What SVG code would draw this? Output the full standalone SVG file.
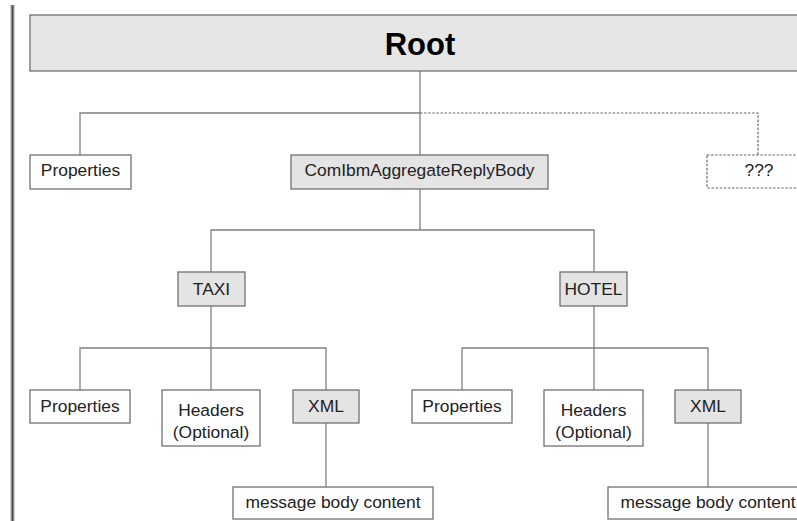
<svg xmlns="http://www.w3.org/2000/svg" width="797" height="521" viewBox="0 0 797 521">
  <style>
    .box { fill: #ffffff; stroke: #707070; stroke-width: 1.3; }
    .grey { fill: #e4e4e4; }
    .dotted { fill: #ffffff; stroke: #666666; stroke-width: 1.2; stroke-dasharray: 2.5 1.6; }
    .lbl { font-family: "Liberation Sans", Arial, sans-serif; font-size: 17.4px; fill: #222222; text-anchor: middle; }
    .title { font-family: "Liberation Sans", Arial, sans-serif; font-size: 31px; font-weight: bold; fill: #000000; text-anchor: middle; }
    .wire { fill: none; stroke: #808080; stroke-width: 1.3; }
    .wire-dot { fill: none; stroke: #666666; stroke-width: 1.2; stroke-dasharray: 2.5 1.6; }
  </style>
  <rect width="797" height="521" fill="#ffffff"/>

  <!-- margin rule on the left edge -->
  <g id="margin">
    <rect x="10" y="5" width="5" height="516" fill="#cfcfd6"/>
    <rect x="11.5" y="5" width="2" height="516" fill="#4a4a4a"/>
  </g>

  <g id="connectors">
    <path class="wire" d="M420 71 V155"/>
    <path class="wire" d="M80 155 V113 H420"/>
    <path class="wire-dot" d="M420 113 H758 V155"/>
    <path class="wire" d="M420 189 V230"/>
    <path class="wire" d="M211 272 V230 H594 V272"/>
    <path class="wire" d="M211 306 V390"/>
    <path class="wire" d="M80 390 V348 H326 V390"/>
    <path class="wire" d="M594 306 V390"/>
    <path class="wire" d="M462 390 V348 H708 V390"/>
    <path class="wire" d="M326 423 V487"/>
    <path class="wire" d="M708 423 V487"/>
  </g>

  <g id="root">
    <rect class="box grey" x="30" y="15" width="790" height="56" stroke-width="1.8" style="fill:#e6e6e6"/>
    <text class="title" x="420" y="55">Root</text>
  </g>

  <g id="properties">
    <rect class="box" x="30" y="155" width="101" height="34"/>
    <text class="lbl" x="80.5" y="176">Properties</text>
  </g>

  <g id="aggregate-reply-body">
    <rect class="box grey" x="291" y="155" width="257" height="34"/>
    <text class="lbl" x="419.5" y="176">ComIbmAggregateReplyBody</text>
  </g>

  <g id="unknown">
    <rect class="dotted" x="707" y="155" width="110" height="33"/>
    <text class="lbl" x="759" y="176">???</text>
  </g>

  <g id="taxi">
    <rect class="box grey" x="178" y="272" width="67" height="34"/>
    <text class="lbl" x="211.5" y="295">TAXI</text>
  </g>

  <g id="hotel">
    <rect class="box grey" x="560" y="272" width="67" height="34"/>
    <text class="lbl" x="593.5" y="295">HOTEL</text>
  </g>

  <g id="taxi-properties">
    <rect class="box" x="30" y="390" width="100" height="33"/>
    <text class="lbl" x="80" y="412">Properties</text>
  </g>

  <g id="taxi-headers">
    <rect class="box" x="162" y="390" width="98" height="56"/>
    <text class="lbl" x="211" y="416">Headers</text>
    <text class="lbl" x="211" y="438">(Optional)</text>
  </g>

  <g id="taxi-xml">
    <rect class="box grey" x="293" y="390" width="66" height="33"/>
    <text class="lbl" x="326" y="412">XML</text>
  </g>

  <g id="taxi-body">
    <rect class="box" x="233" y="487" width="200" height="32"/>
    <text class="lbl" x="333" y="508">message body content</text>
  </g>

  <g id="hotel-properties">
    <rect class="box" x="412" y="390" width="100" height="33"/>
    <text class="lbl" x="462" y="412">Properties</text>
  </g>

  <g id="hotel-headers">
    <rect class="box" x="544" y="390" width="99" height="56"/>
    <text class="lbl" x="593.5" y="416">Headers</text>
    <text class="lbl" x="593.5" y="438">(Optional)</text>
  </g>

  <g id="hotel-xml">
    <rect class="box grey" x="675" y="390" width="66" height="33"/>
    <text class="lbl" x="708" y="412">XML</text>
  </g>

  <g id="hotel-body">
    <rect class="box" x="608" y="487" width="200" height="32"/>
    <text class="lbl" x="708" y="508">message body content</text>
  </g>
</svg>
